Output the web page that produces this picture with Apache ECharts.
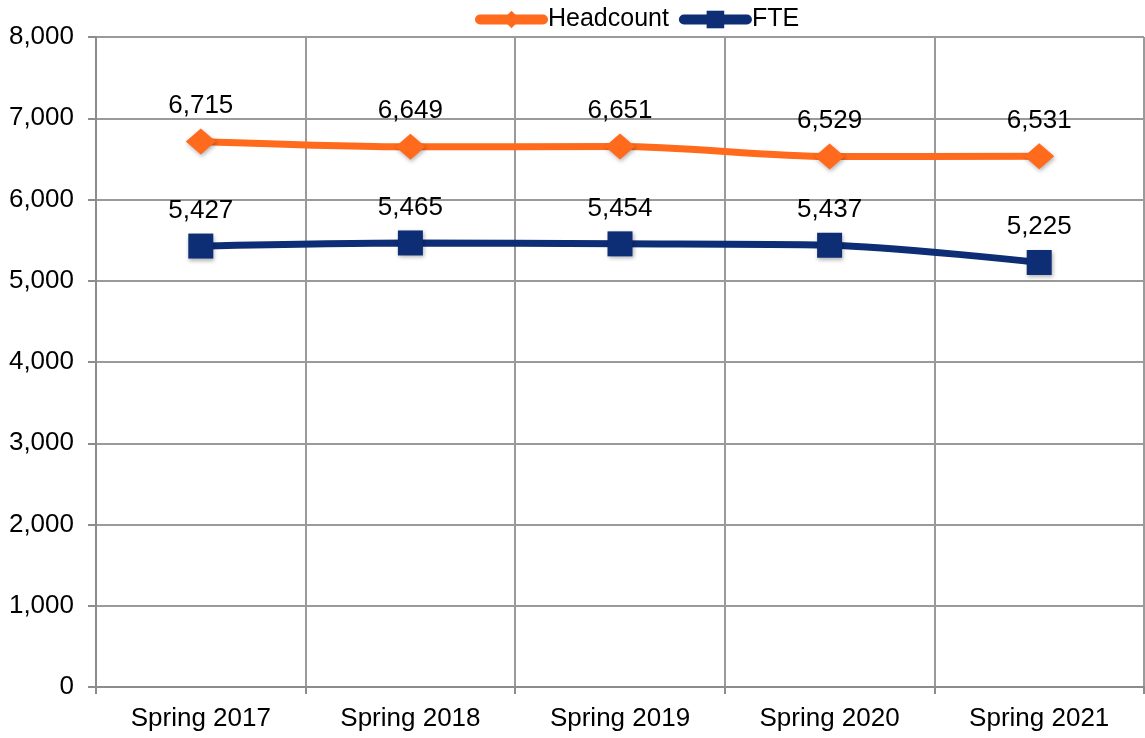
<!DOCTYPE html>
<html>
<head>
<meta charset="utf-8">
<script src="https://cdn.jsdelivr.net/npm/echarts@6/dist/echarts.min.js"></script>
<style>
html,body{margin:0;padding:0;background:#fff;}
#chart{width:1145px;height:738px;}
</style>
</head>
<body>
<div id="chart"></div>
<script>
var terms = ['Spring 2017', 'Spring 2018', 'Spring 2019', 'Spring 2020', 'Spring 2021'];
var headcount = [6715, 6649, 6651, 6529, 6531];
var fte = [5427, 5465, 5454, 5437, 5225];

var myChart = echarts.init(document.getElementById('chart'));
var font = 'Liberation Sans, Arial, sans-serif';

function fmt(v) {
    return v.toLocaleString('en-US');
}

var option = {
    animation: false,
    textStyle: {fontFamily: font},
    legend: {
        top: 2,
        left: 470,
        itemWidth: 63,
        itemHeight: 22,
        itemGap: 10,
        textStyle: {fontSize: 25, color: '#000', fontFamily: font},
        lineStyle: {width: 10, cap: 'round'},
        data: ['Headcount', 'FTE']
    },
    grid: {left: 96, right: 1, top: 37, bottom: 51},
    xAxis: {
        type: 'category',
        data: terms,
        boundaryGap: true,
        axisLine: {lineStyle: {color: '#8c8c8c', width: 2}},
        axisTick: {show: true, length: 7, lineStyle: {color: '#8c8c8c', width: 2}},
        splitLine: {show: true, interval: 0, lineStyle: {color: '#9a9a9a', width: 2}},
        axisLabel: {fontSize: 26, color: '#000', margin: 19, fontFamily: font}
    },
    yAxis: {
        type: 'value',
        min: 0,
        max: 8000,
        interval: 1000,
        axisLine: {show: true, lineStyle: {color: '#8c8c8c', width: 2}},
        axisTick: {show: true, length: 8, lineStyle: {color: '#8c8c8c', width: 2}},
        splitLine: {lineStyle: {color: '#9a9a9a', width: 2}},
        axisLabel: {fontSize: 26, color: '#000', margin: 22, fontFamily: font,
            formatter: function (v) { return fmt(v); }}
    },
    series: [
        {
            name: 'Headcount',
            type: 'line',
            data: headcount,
            smooth: 0.3,
            symbol: 'diamond',
            symbolSize: [30, 26],
            color: '#ff6a1c',
            lineStyle: {width: 7, color: '#ff6a1c'},
            itemStyle: {color: '#ff6a1c', shadowColor: 'rgba(0,0,0,0.3)', shadowBlur: 4, shadowOffsetX: 1, shadowOffsetY: 2},
            label: {
                show: true,
                position: 'top',
                distance: 10,
                fontSize: 26,
                color: '#000',
                fontFamily: font,
                formatter: function (p) { return fmt(p.value); }
            }
        },
        {
            name: 'FTE',
            type: 'line',
            data: fte,
            smooth: 0.3,
            symbol: 'rect',
            symbolSize: 25,
            color: '#0d2d75',
            lineStyle: {width: 7, color: '#0d2d75'},
            itemStyle: {color: '#0d2d75', shadowColor: 'rgba(0,0,0,0.3)', shadowBlur: 4, shadowOffsetX: 1, shadowOffsetY: 2},
            label: {
                show: true,
                position: 'top',
                distance: 10,
                fontSize: 26,
                color: '#000',
                fontFamily: font,
                formatter: function (p) { return fmt(p.value); }
            }
        }
    ]
};

myChart.setOption(option);
</script>
</body>
</html>
